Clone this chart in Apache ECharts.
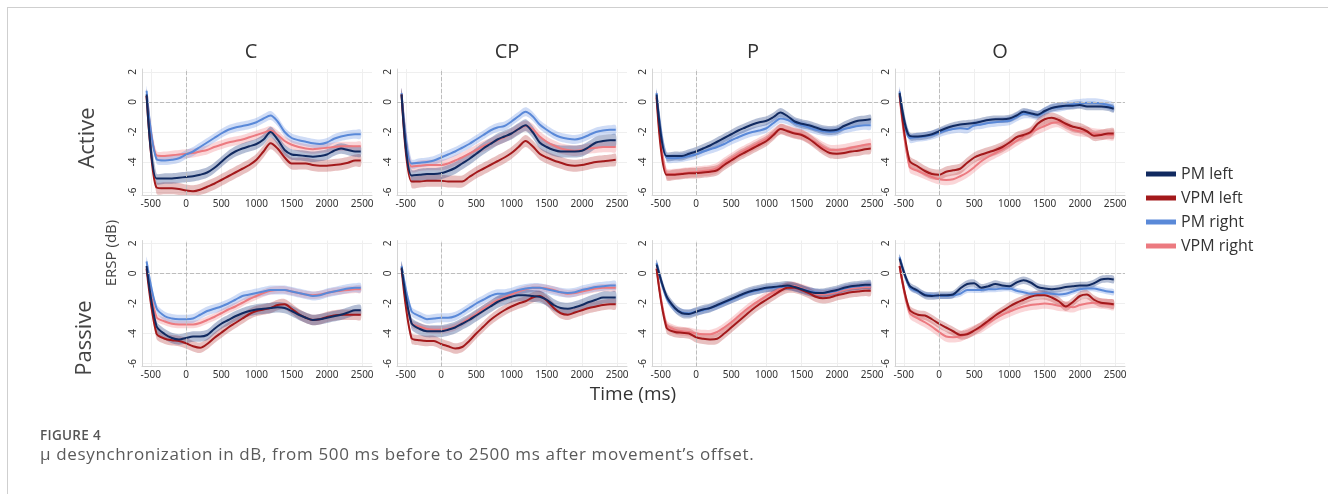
<!DOCTYPE html>
<html>
<head>
<meta charset="utf-8">
<script src="https://cdn.jsdelivr.net/npm/echarts@6/dist/echarts.min.js"></script>
<style>
  html, body { margin: 0; padding: 0; background: #fff; }
  #wrap { position: relative; width: 1328px; height: 494px; overflow: hidden; }
  #frame { position: absolute; left: 7px; top: 7px; right: 0; bottom: 0; border-top: 1px solid #cfcfcf; border-left: 1px solid #cfcfcf; }
  #chart { position: absolute; left: 0; top: 0; width: 1328px; height: 494px; }
  .fig { position: absolute; left: 40px; top: 426px; font: 600 13.5px 'Open Sans', sans-serif; letter-spacing: 0.3px; color: #555; }
  .cap { position: absolute; left: 40px; top: 442px; font: 17px 'Open Sans', sans-serif; letter-spacing: 0.65px; color: #5a5a5a; }
</style>
</head>
<body>
<div id="wrap">
  <div id="frame"></div>
  <div id="chart"></div>
  <div class="fig">FIGURE 4</div>
  <div class="cap">μ desynchronization in dB, from 500 ms before to 2500 ms after movement’s offset.</div>
</div>
<script>
// time points (ms)
var times = [-560, -420, -300, -200, -100, 0, 100, 200, 300, 400, 500, 600, 700, 800, 900, 1000,
  1100, 1200, 1300, 1400, 1500, 1600, 1700, 1800, 1900, 2000, 2100, 2200, 2300, 2400, 2480];
var xTicks = [-500, 0, 500, 1000, 1500, 2000, 2500];
var yTicks = [-6, -4, -2, 0, 2];
var legendNames = ['PM left', 'VPM left', 'PM right', 'VPM right'];
var colTitles = ['C', 'CP', 'P', 'O'];

// Active
var cActivePmLeft = [0.5, -5.1, -5.1, -5.1, -5.05, -5.0, -4.95, -4.85, -4.7, -4.4, -4.0, -3.6, -3.3, -3.1, -2.95, -2.8, -2.5, -2.0, -2.5, -3.2, -3.5, -3.55, -3.6, -3.65, -3.6, -3.5, -3.25, -3.1, -3.2, -3.3, -3.3];
var cActiveVpmLeft = [0.4, -5.7, -5.75, -5.75, -5.8, -5.9, -5.95, -5.85, -5.65, -5.45, -5.2, -4.95, -4.7, -4.45, -4.2, -3.85, -3.3, -2.75, -3.1, -3.7, -4.1, -4.1, -4.1, -4.2, -4.25, -4.25, -4.2, -4.15, -4.05, -3.9, -3.9];
var cActivePmRight = [0.75, -3.8, -3.9, -3.85, -3.75, -3.5, -3.3, -3.0, -2.7, -2.4, -2.1, -1.85, -1.7, -1.6, -1.5, -1.35, -1.1, -0.9, -1.3, -2.0, -2.4, -2.55, -2.65, -2.75, -2.8, -2.7, -2.45, -2.3, -2.2, -2.15, -2.15];
var cActiveVpmRight = [0.4, -3.55, -3.6, -3.55, -3.5, -3.45, -3.4, -3.3, -3.2, -3.0, -2.85, -2.7, -2.6, -2.5, -2.35, -2.2, -2.05, -1.9, -2.2, -2.6, -2.85, -3.0, -3.1, -3.15, -3.1, -3.05, -3.0, -2.95, -2.95, -2.95, -2.95];
var cActiveSd = [0.35, 0.4, 0.3, 0.3];

var cpActivePmLeft = [0.5, -4.9, -4.85, -4.8, -4.8, -4.75, -4.6, -4.4, -4.1, -3.8, -3.45, -3.1, -2.8, -2.5, -2.3, -2.1, -1.8, -1.55, -2.0, -2.7, -3.0, -3.2, -3.3, -3.3, -3.3, -3.25, -3.0, -2.7, -2.6, -2.55, -2.55];
var cpActiveVpmLeft = [0.5, -5.3, -5.3, -5.25, -5.25, -5.25, -5.3, -5.3, -5.3, -5.0, -4.7, -4.45, -4.2, -3.95, -3.7, -3.4, -3.0, -2.6, -2.95, -3.45, -3.7, -3.9, -4.05, -4.2, -4.25, -4.2, -4.1, -4.0, -3.95, -3.9, -3.85];
var cpActivePmRight = [0.6, -4.1, -4.05, -4.0, -3.9, -3.7, -3.5, -3.3, -3.05, -2.8, -2.5, -2.2, -1.9, -1.7, -1.6, -1.3, -0.95, -0.65, -0.95, -1.5, -1.85, -2.15, -2.35, -2.45, -2.5, -2.4, -2.2, -2.0, -1.9, -1.85, -1.85];
var cpActiveVpmRight = [0.5, -4.3, -4.25, -4.2, -4.2, -4.2, -4.1, -3.9, -3.7, -3.45, -3.2, -2.95, -2.75, -2.55, -2.35, -2.1, -1.8, -1.6, -1.8, -2.3, -2.65, -2.9, -3.1, -3.2, -3.25, -3.2, -3.1, -3.05, -3.0, -3.0, -3.0];
var cpActiveSd = [0.4, 0.4, 0.3, 0.35];

var pActivePmLeft = [0.5, -3.6, -3.6, -3.6, -3.45, -3.3, -3.1, -2.9, -2.65, -2.4, -2.15, -1.9, -1.7, -1.5, -1.35, -1.25, -1.0, -0.7, -0.95, -1.3, -1.45, -1.55, -1.7, -1.85, -1.9, -1.85, -1.6, -1.4, -1.25, -1.2, -1.15];
var pActiveVpmLeft = [0.3, -4.85, -4.85, -4.8, -4.75, -4.75, -4.7, -4.65, -4.55, -4.2, -3.9, -3.6, -3.35, -3.1, -2.85, -2.6, -2.2, -1.8, -1.95, -2.1, -2.2, -2.45, -2.8, -3.15, -3.4, -3.45, -3.4, -3.3, -3.25, -3.15, -3.1];
var pActivePmRight = [0.6, -3.7, -3.75, -3.7, -3.6, -3.5, -3.3, -3.15, -3.0, -2.8, -2.55, -2.35, -2.15, -2.0, -1.9, -1.75, -1.4, -1.1, -1.2, -1.4, -1.55, -1.7, -1.85, -1.95, -2.0, -1.95, -1.8, -1.7, -1.6, -1.55, -1.55];
var pActiveVpmRight = [0.4, -4.75, -4.8, -4.75, -4.7, -4.65, -4.6, -4.55, -4.4, -4.05, -3.75, -3.45, -3.2, -2.95, -2.7, -2.45, -2.1, -1.8, -1.9, -2.05, -2.15, -2.4, -2.7, -3.0, -3.2, -3.2, -3.15, -3.05, -2.95, -2.85, -2.8];
var pActiveSd = [0.3, 0.35, 0.3, 0.35];

var oActivePmLeft = [0.6, -2.25, -2.3, -2.25, -2.15, -1.95, -1.75, -1.6, -1.5, -1.45, -1.4, -1.3, -1.2, -1.15, -1.15, -1.1, -0.9, -0.65, -0.75, -0.85, -0.6, -0.4, -0.3, -0.25, -0.25, -0.2, -0.3, -0.3, -0.3, -0.35, -0.45];
var oActiveVpmLeft = [0.5, -3.9, -4.3, -4.6, -4.8, -4.85, -4.65, -4.55, -4.45, -4.05, -3.7, -3.5, -3.35, -3.2, -3.0, -2.7, -2.35, -2.2, -2.0, -1.45, -1.15, -1.05, -1.2, -1.45, -1.65, -1.75, -1.95, -2.25, -2.2, -2.1, -2.1];
var oActivePmRight = [0.7, -2.4, -2.35, -2.3, -2.2, -2.05, -1.9, -1.8, -1.75, -1.8, -1.55, -1.5, -1.4, -1.35, -1.3, -1.25, -1.0, -0.8, -0.8, -0.9, -0.65, -0.4, -0.35, -0.25, -0.15, -0.1, -0.05, -0.05, -0.1, -0.2, -0.35];
var oActiveVpmRight = [0.4, -4.3, -4.6, -4.8, -5.0, -5.15, -5.2, -5.15, -4.95, -4.7, -4.35, -3.95, -3.65, -3.4, -3.15, -2.9, -2.6, -2.3, -2.05, -1.8, -1.6, -1.4, -1.35, -1.6, -1.85, -1.95, -2.0, -2.1, -2.15, -2.2, -2.2];
var oActiveSd = [0.25, 0.35, 0.3, 0.35];

// Passive
var cPassivePmLeft = [0.5, -3.5, -4.05, -4.3, -4.4, -4.3, -4.2, -4.2, -4.1, -3.7, -3.35, -3.1, -2.85, -2.65, -2.5, -2.4, -2.35, -2.3, -2.25, -2.3, -2.5, -2.75, -2.95, -3.1, -3.05, -2.95, -2.85, -2.75, -2.6, -2.45, -2.45];
var cPassiveVpmLeft = [0.3, -4.0, -4.35, -4.45, -4.5, -4.65, -4.85, -4.95, -4.7, -4.3, -3.95, -3.6, -3.3, -3.0, -2.7, -2.5, -2.4, -2.3, -2.1, -2.05, -2.35, -2.7, -2.95, -3.1, -3.05, -2.9, -2.8, -2.75, -2.75, -2.75, -2.75];
var cPassivePmRight = [0.8, -2.3, -2.85, -3.0, -3.05, -3.05, -3.0, -2.75, -2.5, -2.35, -2.2, -2.0, -1.75, -1.5, -1.4, -1.3, -1.2, -1.1, -1.1, -1.1, -1.2, -1.3, -1.4, -1.5, -1.45, -1.3, -1.2, -1.1, -1.0, -0.95, -0.95];
var cPassiveVpmRight = [0.4, -2.9, -3.2, -3.35, -3.4, -3.4, -3.4, -3.3, -3.1, -2.9, -2.65, -2.4, -2.2, -1.95, -1.7, -1.5, -1.3, -1.15, -1.1, -1.1, -1.2, -1.3, -1.4, -1.45, -1.4, -1.3, -1.2, -1.15, -1.1, -1.05, -1.05];
var cPassiveSd = [0.35, 0.35, 0.3, 0.25];

var cpPassivePmLeft = [0.4, -3.3, -3.7, -3.85, -3.85, -3.85, -3.75, -3.6, -3.35, -3.1, -2.8, -2.5, -2.2, -1.9, -1.7, -1.55, -1.45, -1.45, -1.5, -1.55, -1.75, -2.1, -2.3, -2.35, -2.25, -2.1, -1.9, -1.75, -1.6, -1.6, -1.6];
var cpPassiveVpmLeft = [0.3, -4.3, -4.45, -4.5, -4.5, -4.7, -4.85, -5.0, -4.9, -4.5, -4.0, -3.55, -3.1, -2.75, -2.45, -2.2, -2.0, -1.85, -1.6, -1.5, -1.8, -2.3, -2.65, -2.75, -2.6, -2.45, -2.3, -2.2, -2.1, -2.05, -2.05];
var cpPassivePmRight = [0.5, -2.5, -2.85, -3.05, -3.0, -2.95, -2.95, -2.85, -2.6, -2.3, -2.0, -1.75, -1.5, -1.35, -1.35, -1.25, -1.1, -1.0, -0.95, -0.95, -1.05, -1.15, -1.25, -1.3, -1.25, -1.1, -1.0, -0.9, -0.85, -0.8, -0.8];
var cpPassiveVpmRight = [0.4, -3.3, -3.55, -3.7, -3.75, -3.75, -3.7, -3.55, -3.3, -3.0, -2.7, -2.35, -2.05, -1.8, -1.6, -1.4, -1.2, -1.05, -0.95, -0.95, -1.0, -1.1, -1.25, -1.35, -1.3, -1.2, -1.1, -1.0, -0.95, -0.95, -0.95];
var cpPassiveSd = [0.4, 0.35, 0.3, 0.25];

var pPassivePmLeft = [0.6, -1.5, -2.3, -2.65, -2.7, -2.55, -2.4, -2.3, -2.1, -1.9, -1.7, -1.5, -1.3, -1.15, -1.05, -0.95, -0.9, -0.85, -0.8, -0.9, -1.05, -1.2, -1.3, -1.3, -1.2, -1.1, -0.95, -0.85, -0.8, -0.75, -0.75];
var pPassiveVpmLeft = [0.3, -3.6, -3.9, -3.95, -4.0, -4.25, -4.35, -4.4, -4.35, -4.0, -3.6, -3.2, -2.8, -2.4, -2.05, -1.75, -1.45, -1.15, -0.95, -0.95, -1.1, -1.3, -1.55, -1.65, -1.6, -1.45, -1.35, -1.25, -1.2, -1.15, -1.15];
var pPassivePmRight = [0.7, -1.6, -2.35, -2.6, -2.65, -2.55, -2.45, -2.3, -2.15, -1.95, -1.75, -1.55, -1.35, -1.2, -1.1, -1.0, -0.95, -0.9, -0.85, -0.95, -1.05, -1.15, -1.25, -1.3, -1.25, -1.15, -1.0, -0.9, -0.85, -0.8, -0.8];
var pPassiveVpmRight = [0.4, -3.4, -3.75, -3.85, -3.9, -4.0, -4.05, -4.05, -3.9, -3.6, -3.25, -2.85, -2.45, -2.1, -1.8, -1.5, -1.25, -1.0, -0.85, -0.85, -1.0, -1.15, -1.35, -1.4, -1.35, -1.25, -1.1, -1.0, -0.95, -0.9, -0.9];
var pPassiveSd = [0.3, 0.35, 0.25, 0.3];

var oPassivePmLeft = [1.0, -0.8, -1.15, -1.45, -1.5, -1.45, -1.45, -1.4, -1.0, -0.7, -0.65, -0.95, -0.85, -0.7, -0.8, -0.85, -0.6, -0.45, -0.6, -0.9, -1.0, -1.05, -1.0, -0.9, -0.85, -0.8, -0.8, -0.65, -0.4, -0.35, -0.4];
var oPassiveVpmLeft = [0.5, -2.4, -2.75, -2.8, -3.05, -3.35, -3.6, -3.85, -4.1, -4.05, -3.8, -3.5, -3.15, -2.8, -2.5, -2.2, -1.95, -1.75, -1.55, -1.45, -1.45, -1.6, -1.85, -2.2, -1.9, -1.5, -1.4, -1.75, -1.95, -2.0, -2.05];
var oPassivePmRight = [1.1, -0.9, -1.2, -1.4, -1.45, -1.5, -1.5, -1.45, -1.35, -1.1, -1.1, -1.1, -1.05, -1.05, -1.0, -1.0, -1.15, -1.25, -1.35, -1.35, -1.3, -1.35, -1.4, -1.35, -1.2, -1.05, -1.0, -1.0, -1.1, -1.2, -1.25];
var oPassiveVpmRight = [0.5, -2.6, -3.0, -3.25, -3.55, -3.9, -4.2, -4.25, -4.2, -4.0, -3.8, -3.6, -3.3, -3.0, -2.75, -2.55, -2.35, -2.2, -2.1, -2.05, -2.0, -2.05, -2.15, -2.2, -2.25, -2.1, -2.0, -1.95, -2.0, -2.05, -2.1];
var oPassiveSd = [0.25, 0.3, 0.2, 0.35];

var lineColors = ['#112a60', '#a3191b', '#5a89d8', '#ec7a80'];
var bandColors = ['rgba(40,70,135,0.35)', 'rgba(180,45,45,0.3)', 'rgba(95,140,225,0.3)', 'rgba(240,120,125,0.3)'];

var panels = [
  [cActivePmLeft, cActiveVpmLeft, cActivePmRight, cActiveVpmRight, cActiveSd],
  [cpActivePmLeft, cpActiveVpmLeft, cpActivePmRight, cpActiveVpmRight, cpActiveSd],
  [pActivePmLeft, pActiveVpmLeft, pActivePmRight, pActiveVpmRight, pActiveSd],
  [oActivePmLeft, oActiveVpmLeft, oActivePmRight, oActiveVpmRight, oActiveSd],
  [cPassivePmLeft, cPassiveVpmLeft, cPassivePmRight, cPassiveVpmRight, cPassiveSd],
  [cpPassivePmLeft, cpPassiveVpmLeft, cpPassivePmRight, cpPassiveVpmRight, cpPassiveSd],
  [pPassivePmLeft, pPassiveVpmLeft, pPassivePmRight, pPassiveVpmRight, pPassiveSd],
  [oPassivePmLeft, oPassiveVpmLeft, oPassivePmRight, oPassiveVpmRight, oPassiveSd]
];

var gridLefts = [142, 397, 652, 895];
var gridTops = [69, 240.5];
var X_MIN = -625, X_MAX = 2640, Y_MIN = -6.2, Y_MAX = 2.2;
var tickFont = 'Noto Sans';

var grids = [], xAxes = [], yAxes = [], series = [];

function plainNum(v) { return String(v); }

function bandSeries(p, s, mean, sd) {
  return {
    type: 'custom', xAxisIndex: p, yAxisIndex: p, silent: true, z: 1,
    data: [[times[0], mean[0]]],
    renderItem: function (params, api) {
      var pts = [];
      for (var i = 0; i < times.length; i++) {
        pts.push(api.coord([times[i], Math.max(mean[i] - sd, Y_MIN)]));
      }
      for (var j = times.length - 1; j >= 0; j--) {
        pts.push(api.coord([times[j], Math.min(mean[j] + sd, Y_MAX)]));
      }
      return { type: 'polygon', shape: { points: pts, smooth: 0.3 }, style: { fill: bandColors[s] } };
    }
  };
}

panels.forEach(function (panel, p) {
  var col = p % 4, row = Math.floor(p / 4);
  grids.push({ left: gridLefts[col], top: gridTops[row], width: 230, height: 126 });
  xAxes.push({
    type: 'value', gridIndex: p, min: X_MIN, max: X_MAX,
    axisLine: { show: true, onZero: false, lineStyle: { color: '#d4d4d4' } },
    axisTick: { show: false, customValues: xTicks },
    axisLabel: { customValues: xTicks, formatter: plainNum, fontSize: 10, color: '#333', fontFamily: tickFont, margin: 4 },
    splitLine: { show: true, lineStyle: { color: '#efefef' } }
  });
  yAxes.push({
    type: 'value', gridIndex: p, min: Y_MIN, max: Y_MAX,
    axisLine: { show: true, onZero: false, lineStyle: { color: '#d4d4d4' } },
    axisTick: { show: false, customValues: yTicks },
    axisLabel: { customValues: yTicks, formatter: plainNum, rotate: 90, fontSize: 10, color: '#333', fontFamily: tickFont, margin: 4 },
    splitLine: { show: true, lineStyle: { color: '#efefef' } }
  });
  var sds = panel[4];
  [3, 2, 1, 0].forEach(function (s) {
    series.push(bandSeries(p, s, panel[s], sds[s]));
  });
  [3, 2, 1, 0].forEach(function (s, k) {
    var line = {
      type: 'line', name: legendNames[s], xAxisIndex: p, yAxisIndex: p,
      data: times.map(function (t, i) { return [t, panel[s][i]]; }),
      smooth: 0.3, symbol: 'none', color: lineColors[s],
      lineStyle: { width: 2 }, z: 3, silent: true
    };
    if (k === 0) {
      line.markLine = {
        silent: true, symbol: 'none', label: { show: false },
        lineStyle: { type: 'dashed', color: '#bdbdbd', width: 1 },
        data: [{ yAxis: 0 }, { xAxis: 0 }]
      };
    }
    series.push(line);
  });
});

var titleX = [251, 507, 753, 1000];
var graphics = colTitles.map(function (t, i) {
  return { type: 'text', x: titleX[i], y: 52, style: { text: t, fontSize: 20, fill: '#333', fontFamily: 'Open Sans', align: 'center', verticalAlign: 'middle' } };
});
graphics.push(
  { type: 'text', x: 88, y: 138, rotation: Math.PI / 2, style: { text: 'Active', fontSize: 22, fill: '#444', fontFamily: 'Open Sans', align: 'center', verticalAlign: 'middle' } },
  { type: 'text', x: 85, y: 338, rotation: Math.PI / 2, style: { text: 'Passive', fontSize: 22, fill: '#444', fontFamily: 'Open Sans', align: 'center', verticalAlign: 'middle' } },
  { type: 'text', x: 112, y: 253, rotation: Math.PI / 2, style: { text: 'ERSP (dB)', fontSize: 15, fill: '#444', fontFamily: 'Open Sans', align: 'center', verticalAlign: 'middle' } },
  { type: 'text', x: 633, y: 395, style: { text: 'Time (ms)', fontSize: 19, fill: '#333', fontFamily: 'Open Sans', align: 'center', verticalAlign: 'middle' } }
);

var chart = echarts.init(document.getElementById('chart'), null, { renderer: 'canvas' });
chart.setOption({
  animation: false,
  backgroundColor: 'transparent',
  grid: grids,
  xAxis: xAxes,
  yAxis: yAxes,
  legend: {
    data: legendNames, orient: 'vertical', left: 1141, top: 160,
    icon: 'rect', itemWidth: 30, itemHeight: 5, itemGap: 6,
    textStyle: { fontSize: 16, color: '#333', fontFamily: 'Open Sans', lineHeight: 18 }
  },
  graphic: graphics,
  series: series
});
</script>
</body>
</html>
